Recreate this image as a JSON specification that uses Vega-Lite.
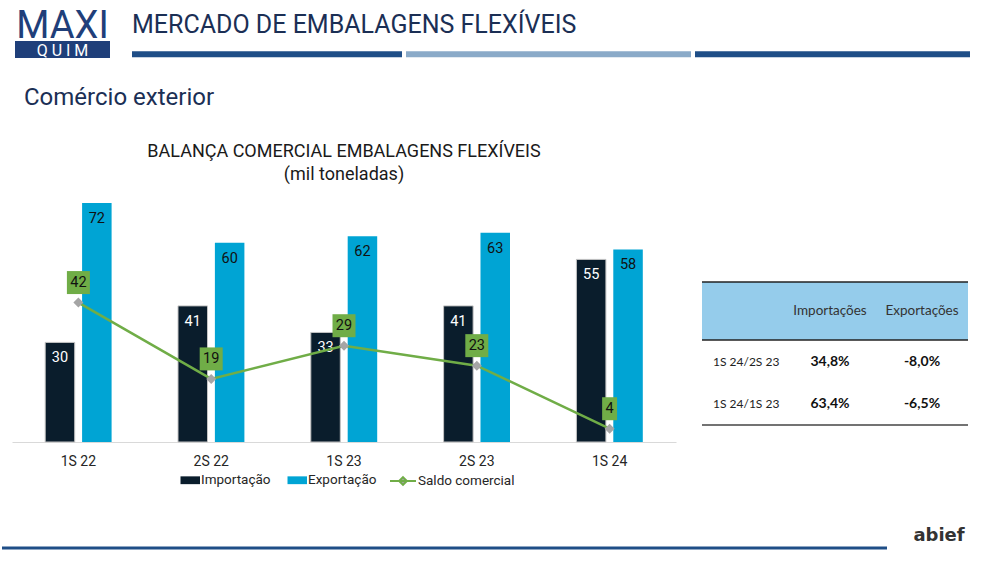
{
  "$schema": "https://vega.github.io/schema/vega-lite/v6.json",
  "background": "white",
  "padding": {"top": 8, "left": 0, "right": 0, "bottom": 0},
  "autosize": {"type": "pad"},
  "config": {"view": {"stroke": null}, "font": "Roboto", "concat": {"spacing": 0}, "legend": {"layout": {"bottom": {"anchor": "middle", "direction": "horizontal", "margin": 12}}}},
  "resolve": {"scale": {"color": "independent", "stroke": "independent"}, "legend": {"color": "independent", "stroke": "independent"}},
  "datasets": {
    "bars": [
      {"quarter": "1S 22", "series": "Importação", "value": 30},
      {"quarter": "1S 22", "series": "Exportação", "value": 72},
      {"quarter": "2S 22", "series": "Importação", "value": 41},
      {"quarter": "2S 22", "series": "Exportação", "value": 60},
      {"quarter": "1S 23", "series": "Importação", "value": 33},
      {"quarter": "1S 23", "series": "Exportação", "value": 62},
      {"quarter": "2S 23", "series": "Importação", "value": 41},
      {"quarter": "2S 23", "series": "Exportação", "value": 63},
      {"quarter": "1S 24", "series": "Importação", "value": 55},
      {"quarter": "1S 24", "series": "Exportação", "value": 58}
    ],
    "saldo": [
      {"quarter": "1S 22", "saldo": 42},
      {"quarter": "2S 22", "saldo": 19},
      {"quarter": "1S 23", "saldo": 29},
      {"quarter": "2S 23", "saldo": 23},
      {"quarter": "1S 24", "saldo": 4}
    ],
    "cells": [
      {"row": "1S 24/2S 23", "col": "label", "val": "1S 24/2S 23"},
      {"row": "1S 24/2S 23", "col": "Importações", "val": "34,8%"},
      {"row": "1S 24/2S 23", "col": "Exportações", "val": "-8,0%"},
      {"row": "1S 24/1S 23", "col": "label", "val": "1S 24/1S 23"},
      {"row": "1S 24/1S 23", "col": "Importações", "val": "63,4%"},
      {"row": "1S 24/1S 23", "col": "Exportações", "val": "-6,5%"}
    ]
  },
  "spacing": 27,
  "vconcat": [
    {
      "spacing": 0,
      "bounds": "flush",
      "hconcat": [
        {"width": 13, "height": 1, "data": {"values": []}, "mark": "point"},
        {
          "width": 95, "height": 17,
          "title": {"text": "MAXI", "fontSize": 38, "font": "Roboto", "fontWeight": "normal", "color": "#1f3f7a", "anchor": "middle", "offset": -5},
          "view": {"fill": "#1f3f7a"},
          "data": {"values": [{"t": "Q       U       I       M"}]},
          "mark": {"type": "text", "color": "white", "fontSize": 16, "font": "Roboto", "dy": 1},
          "encoding": {"text": {"field": "t"}}
        },
        {"width": 22, "height": 1, "data": {"values": []}, "mark": "point"},
        {
          "title": {"text": "MERCADO DE EMBALAGENS FLEXÍVEIS", "anchor": "start", "fontSize": 25, "font": "Roboto", "fontWeight": "normal", "color": "#1b2f55", "offset": 3, "dx": 3},
          "spacing": 4,
          "bounds": "flush",
          "hconcat": [
            {
              "width": 270, "height": 17,
              "data": {"values": [{"r": "a"}]},
              "mark": {"type": "rule", "color": "#1f4e87", "strokeWidth": 6},
              "encoding": {"y": {"field": "r", "type": "nominal", "scale": {"type": "band", "paddingInner": 0, "paddingOuter": 0}, "bandPosition": 0.78, "axis": null}}
            },
            {
              "width": 285, "height": 17,
              "data": {"values": [{"r": "a"}]},
              "mark": {"type": "rule", "color": "#8aaac8", "strokeWidth": 6},
              "encoding": {"y": {"field": "r", "type": "nominal", "scale": {"type": "band", "paddingInner": 0, "paddingOuter": 0}, "bandPosition": 0.78, "axis": null}}
            },
            {
              "width": 275, "height": 17,
              "data": {"values": [{"r": "a"}]},
              "mark": {"type": "rule", "color": "#1f4e87", "strokeWidth": 6},
              "encoding": {"y": {"field": "r", "type": "nominal", "scale": {"type": "band", "paddingInner": 0, "paddingOuter": 0}, "bandPosition": 0.78, "axis": null}}
            }
          ]
        }
      ]
    },
    {
      "title": {"text": "Comércio exterior", "anchor": "start", "fontSize": 24, "font": "Roboto", "fontWeight": "normal", "color": "#1b2f55", "dx": 22, "offset": 33},
      "spacing": 0,
      "bounds": "flush",
      "resolve": {"scale": {"color": "independent", "stroke": "independent"}, "legend": {"color": "independent", "stroke": "independent"}},
      "hconcat": [
        {"width": 10, "height": 1, "data": {"values": []}, "mark": "point"},
        {
          "width": 664, "height": 249,
          "title": {"text": ["BALANÇA COMERCIAL EMBALAGENS FLEXÍVEIS", "(mil toneladas)"], "fontSize": 18, "font": "Roboto", "fontWeight": "normal", "color": "#1a1a1a", "anchor": "middle", "lineHeight": 23, "offset": 9},
          "encoding": {
            "x": {"field": "quarter", "type": "nominal", "scale": {"domain": ["1S 22", "2S 22", "1S 23", "2S 23", "1S 24"], "paddingInner": 0.5, "paddingOuter": 0.25},
              "axis": {"title": null, "labelFontSize": 14, "labelColor": "#262626", "ticks": false, "domainColor": "#d9d9d9", "labelPadding": 12, "labelAngle": 0}}
          },
          "layer": [
            {
              "data": {"name": "bars"},
              "mark": {"type": "bar"},
              "encoding": {
                "xOffset": {"field": "series", "type": "nominal", "scale": {"domain": ["Importação", "Exportação"], "paddingInner": 0.2, "paddingOuter": 0}},
                "y": {"field": "value", "type": "quantitative", "scale": {"domain": [0, 75], "nice": false, "zero": true}, "axis": null},
                "color": {"field": "series", "type": "nominal",
                  "scale": {"domain": ["Importação", "Exportação"], "range": ["#0a1d2c", "#00a4d4"]},
                  "legend": {"orient": "bottom", "direction": "horizontal", "title": null, "labelFontSize": 13.5, "labelColor": "#262626", "labelFont": "Roboto", "symbolSize": 676, "symbolType": "M-0.5,-0.3H1V0.3H-0.5Z", "symbolStrokeWidth": 0, "columnPadding": 10, "offset": -1, "labelOffset": 1}
                },
                "stroke": {"condition": {"test": "datum.series === 'Importação'", "value": "#c4c4c4"}, "value": null}
              }
            },
            {
              "data": {"name": "bars"},
              "mark": {"type": "text", "baseline": "middle", "dy": 16, "fontSize": 14.5, "font": "Roboto"},
              "encoding": {
                "xOffset": {"field": "series", "type": "nominal", "scale": {"domain": ["Importação", "Exportação"], "paddingInner": 0.2, "paddingOuter": 0}},
                "y": {"field": "value", "type": "quantitative"},
                "text": {"field": "value", "type": "quantitative"},
                "color": {"condition": {"test": "datum.series === 'Importação'", "value": "white"}, "value": "#111111"}
              }
            },
            {
              "data": {"name": "saldo"},
              "mark": {"type": "line", "strokeWidth": 2.5},
              "encoding": {
                "y": {"field": "saldo", "type": "quantitative"},
                "stroke": {"datum": "Saldo comercial", "type": "nominal", "scale": {"domain": ["Saldo comercial"], "range": ["#70ad47"]},
                  "legend": {"orient": "bottom", "direction": "horizontal", "title": null, "labelFontSize": 13.5, "labelColor": "#262626", "labelFont": "Roboto", "symbolSize": 676, "symbolType": "M-1,0H1M0,-0.3L0.3,0L0,0.3L-0.3,0Z", "symbolStrokeWidth": 2, "symbolFillColor": "#a5a5a5", "offset": -1, "labelOffset": 1}
                }
              }
            },
            {
              "data": {"name": "saldo"},
              "mark": {"type": "point", "shape": "diamond", "filled": true, "size": 100, "color": "#a5a5a5", "opacity": 1},
              "encoding": {
                "y": {"field": "saldo", "type": "quantitative"}
              }
            },
            {
              "data": {"name": "saldo"},
              "mark": {"type": "point", "filled": true, "size": 529, "color": "#70ad47", "opacity": 1, "yOffset": -20},
              "encoding": {
                "y": {"field": "saldo", "type": "quantitative"},
                "shape": {"condition": {"test": "datum.saldo < 10", "value": "M-0.65,-1H0.65V1H-0.65Z"}, "value": "M-1,-1H1V1H-1Z"}
              }
            },
            {
              "data": {"name": "saldo"},
              "mark": {"type": "text", "baseline": "middle", "dy": -20, "fontSize": 14.5, "font": "Roboto", "color": "#111111"},
              "encoding": {
                "y": {"field": "saldo", "type": "quantitative"},
                "text": {"field": "saldo", "type": "quantitative"}
              }
            }
          ]
        },
        {"width": 26, "height": 1, "data": {"values": []}, "mark": "point"},
        {
          "spacing": 0,
          "vconcat": [
            {"width": 266, "height": 88, "data": {"values": []}, "mark": "point"},
            {
              "width": 266, "height": 58,
              "view": {"fill": "#95cceb"},
              "layer": [
                {
                  "data": {"values": [{"col": "Importações"}, {"col": "Exportações"}]},
                  "mark": {"type": "text", "font": "Lato", "fontSize": 13.5, "color": "#333333"},
                  "encoding": {
                    "x": {"field": "col", "type": "nominal", "scale": {"type": "band", "domain": ["label", "Importações", "Exportações"], "range": [-10, 266], "paddingInner": 0, "paddingOuter": 0}, "axis": null},
                    "text": {"field": "col"}
                  }
                },
                {
                  "data": {"values": [{"r": "h"}]},
                  "mark": {"type": "rule", "color": "#222222", "strokeWidth": 1.5},
                  "encoding": {"y": {"field": "r", "type": "nominal", "scale": {"type": "band", "paddingInner": 0, "paddingOuter": 0}, "bandPosition": 0, "axis": null}}
                },
                {
                  "data": {"values": [{"r": "h"}]},
                  "mark": {"type": "rule", "color": "#222222", "strokeWidth": 1.5},
                  "encoding": {"y": {"field": "r", "type": "nominal", "bandPosition": 1, "axis": null}}
                }
              ]
            },
            {
              "width": 266, "height": 84,
              "data": {"name": "cells"},
              "encoding": {
                "x": {"field": "col", "type": "nominal", "scale": {"type": "band", "domain": ["label", "Importações", "Exportações"], "range": [-10, 266], "paddingInner": 0, "paddingOuter": 0}, "axis": null},
                "y": {"field": "row", "type": "nominal", "scale": {"type": "band", "domain": ["1S 24/2S 23", "1S 24/1S 23"], "paddingInner": 0, "paddingOuter": 0}, "axis": null}
              },
              "layer": [
                {
                  "transform": [{"filter": "datum.col === 'label'"}],
                  "mark": {"type": "text", "font": "Lato", "fontSize": 12, "color": "#222222", "align": "left", "dx": 21},
                  "encoding": {
                    "x": {"field": "col", "type": "nominal", "bandPosition": 0},
                    "text": {"field": "val"}
                  }
                },
                {
                  "transform": [{"filter": "datum.col !== 'label'"}],
                  "mark": {"type": "text", "font": "Lato", "fontSize": 14, "fontWeight": "bold", "color": "#111111"},
                  "encoding": {"text": {"field": "val"}}
                },
                {
                  "data": {"values": [{"row": "1S 24/1S 23"}]},
                  "mark": {"type": "rule", "color": "#444444", "strokeWidth": 1.5},
                  "encoding": {"x": null, "y": {"field": "row", "type": "nominal", "bandPosition": 1}}
                }
              ]
            }
          ]
        }
      ]
    },
    {
      "spacing": 5,
      "hconcat": [
        {
          "width": 885, "height": 32,
          "data": {"values": [{"r": "a"}]},
          "mark": {"type": "rule", "color": "#1f4e87", "strokeWidth": 3},
          "encoding": {"y": {"field": "r", "type": "nominal", "scale": {"type": "band", "paddingInner": 0, "paddingOuter": 0}, "bandPosition": 1, "axis": null}}
        },
        {
          "width": 90, "height": 32,
          "data": {"values": [{"t": "abief"}]},
          "mark": {"type": "text", "fontSize": 18, "fontWeight": "bold", "color": "#333333", "font": "DejaVu Sans", "dy": 4},
          "encoding": {"text": {"field": "t"}}
        }
      ]
    }
  ]
}
